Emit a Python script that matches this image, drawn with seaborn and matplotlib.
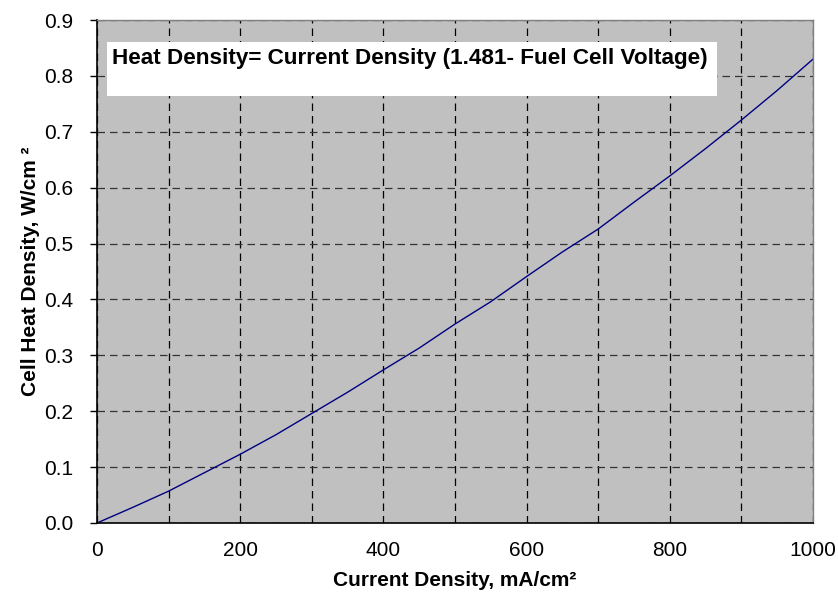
import matplotlib
matplotlib.use("Agg")
import matplotlib.pyplot as plt
import pandas as pd
import seaborn as sns
from matplotlib.patches import Rectangle

# values
current_density = [0, 50, 100, 150, 200, 250, 300, 350, 400, 450, 500,
                   550, 600, 650, 700, 750, 800, 850, 900, 950, 1000]
heat_density = [0.0, 0.028, 0.057, 0.090, 0.123, 0.158, 0.196, 0.234, 0.274, 0.313, 0.356,
                0.396, 0.441, 0.485, 0.526, 0.574, 0.621, 0.670, 0.721, 0.774, 0.830]
x_ticks = [0, 200, 400, 600, 800, 1000]
y_ticks = [0.0, 0.1, 0.2, 0.3, 0.4, 0.5, 0.6, 0.7, 0.8, 0.9]

df = pd.DataFrame({"current": current_density, "heat": heat_density})

sns.set_theme(style="ticks")
plt.rcParams["font.family"] = ["Liberation Sans", "DejaVu Sans"]
plt.rcParams["text.color"] = "black"
plt.rcParams["axes.labelcolor"] = "black"
plt.rcParams["xtick.color"] = "black"
plt.rcParams["ytick.color"] = "black"

fig = plt.figure(figsize=(8.38, 6.10), dpi=100)
ax = fig.add_axes([97 / 838, 1 - 523 / 610, (813 - 97) / 838, (523 - 20) / 610])
ax.set_facecolor("#C0C0C0")

sns.lineplot(data=df, x="current", y="heat", color="#000080", linewidth=1.0, ax=ax)

ax.set_xlim(0, 1000)
ax.set_ylim(0, 0.9)
ax.set_xticks(x_ticks)
ax.set_xticks(range(0, 1001, 100), minor=True)
ax.set_yticks(y_ticks)
ax.set_xticklabels([str(t) for t in x_ticks], fontsize=15)
ax.set_yticklabels([f"{t:.1f}" for t in y_ticks], fontsize=15)
ax.tick_params(axis="x", length=0, pad=13, which="both")
ax.tick_params(axis="y", length=5, width=1, direction="out", pad=12)

ax.grid(True, which="both", axis="x", color="black", linestyle=(0, (6, 4)), linewidth=0.9)
ax.grid(True, axis="y", color="#333333", linestyle=(0, (6, 4)), linewidth=0.9)
ax.set_axisbelow(True)

for side in ["left", "bottom"]:
    ax.spines[side].set_color("black")
    ax.spines[side].set_linewidth(1.2)
for side in ["top", "right"]:
    ax.spines[side].set_visible(True)
    ax.spines[side].set_color("#808080")
    ax.spines[side].set_linewidth(1.0)

ax.set_xlabel("Current Density, mA/cm²", fontsize=15, fontweight="bold", labelpad=8)
ax.set_ylabel("Cell Heat Density, W/cm ²", fontsize=15, fontweight="bold", labelpad=3)

# annotation box
ax.add_patch(Rectangle((14, 0.764), 852, 0.097, facecolor="white", edgecolor="none", zorder=3))
ax.text(21, 0.832, "Heat Density= Current Density (1.481- Fuel Cell Voltage)",
        fontsize=16.2, fontweight="bold", va="center", ha="left", zorder=4)

fig.savefig("out.png", dpi=100)
